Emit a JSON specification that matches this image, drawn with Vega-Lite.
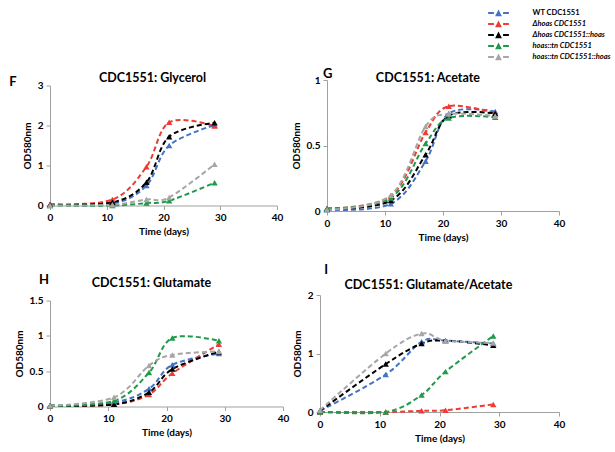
{
  "$schema": "https://vega.github.io/schema/vega-lite/v6.json",
  "padding": {"left": 9, "top": 9, "right": 0, "bottom": 5},
  "background": "white",
  "config": {
    "font": "Lato",
    "view": {"stroke": null},
    "axis": {"domainColor": "#a0a0a0", "tickColor": "#a0a0a0", "tickSize": 4, "grid": false, "labelFont": "Lato", "labelFontSize": 10, "labelFontWeight": "bold", "labelColor": "#000", "titleFont": "Lato", "titleFontSize": 10, "titleFontWeight": "bold", "titleColor": "#000", "labelPadding": 3, "labelFlush": false},
    "axisX": {"titlePadding": 4},
    "axisY": {"titlePadding": 5},
    "title": {"font": "Lato", "fontSize": 12.5, "fontWeight": "bold", "color": "#000"}
  },
  "data": {"values": [
    {"panel": "F", "strain": "WT CDC1551", "time": 0, "od": 0.02},
    {"panel": "F", "strain": "WT CDC1551", "time": 11, "od": 0.05},
    {"panel": "F", "strain": "WT CDC1551", "time": 17, "od": 0.5},
    {"panel": "F", "strain": "WT CDC1551", "time": 21, "od": 1.5},
    {"panel": "F", "strain": "WT CDC1551", "time": 29, "od": 2.01},
    {"panel": "F", "strain": "Δhoas CDC1551", "time": 0, "od": 0.03},
    {"panel": "F", "strain": "Δhoas CDC1551", "time": 11, "od": 0.15},
    {"panel": "F", "strain": "Δhoas CDC1551", "time": 17, "od": 0.97},
    {"panel": "F", "strain": "Δhoas CDC1551", "time": 21, "od": 2.08},
    {"panel": "F", "strain": "Δhoas CDC1551", "time": 29, "od": 1.99},
    {"panel": "F", "strain": "Δhoas CDC1551::hoas", "time": 0, "od": 0.02},
    {"panel": "F", "strain": "Δhoas CDC1551::hoas", "time": 11, "od": 0.08},
    {"panel": "F", "strain": "Δhoas CDC1551::hoas", "time": 17, "od": 0.58},
    {"panel": "F", "strain": "Δhoas CDC1551::hoas", "time": 21, "od": 1.72},
    {"panel": "F", "strain": "Δhoas CDC1551::hoas", "time": 29, "od": 2.07},
    {"panel": "F", "strain": "hoas::tn CDC1551", "time": 0, "od": 0.0},
    {"panel": "F", "strain": "hoas::tn CDC1551", "time": 11, "od": 0.0},
    {"panel": "F", "strain": "hoas::tn CDC1551", "time": 17, "od": 0.06},
    {"panel": "F", "strain": "hoas::tn CDC1551", "time": 21, "od": 0.12},
    {"panel": "F", "strain": "hoas::tn CDC1551", "time": 29, "od": 0.57},
    {"panel": "F", "strain": "hoas::tn CDC1551::hoas", "time": 0, "od": 0.0},
    {"panel": "F", "strain": "hoas::tn CDC1551::hoas", "time": 11, "od": 0.02},
    {"panel": "F", "strain": "hoas::tn CDC1551::hoas", "time": 17, "od": 0.15},
    {"panel": "F", "strain": "hoas::tn CDC1551::hoas", "time": 21, "od": 0.2},
    {"panel": "F", "strain": "hoas::tn CDC1551::hoas", "time": 29, "od": 1.03},

    {"panel": "G", "strain": "WT CDC1551", "time": 0, "od": 0.01},
    {"panel": "G", "strain": "WT CDC1551", "time": 11, "od": 0.055},
    {"panel": "G", "strain": "WT CDC1551", "time": 17, "od": 0.38},
    {"panel": "G", "strain": "WT CDC1551", "time": 21, "od": 0.745},
    {"panel": "G", "strain": "WT CDC1551", "time": 29, "od": 0.76},
    {"panel": "G", "strain": "Δhoas CDC1551", "time": 0, "od": 0.02},
    {"panel": "G", "strain": "Δhoas CDC1551", "time": 11, "od": 0.115},
    {"panel": "G", "strain": "Δhoas CDC1551", "time": 17, "od": 0.6},
    {"panel": "G", "strain": "Δhoas CDC1551", "time": 21, "od": 0.8},
    {"panel": "G", "strain": "Δhoas CDC1551", "time": 29, "od": 0.745},
    {"panel": "G", "strain": "Δhoas CDC1551::hoas", "time": 0, "od": 0.015},
    {"panel": "G", "strain": "Δhoas CDC1551::hoas", "time": 11, "od": 0.08},
    {"panel": "G", "strain": "Δhoas CDC1551::hoas", "time": 17, "od": 0.43},
    {"panel": "G", "strain": "Δhoas CDC1551::hoas", "time": 21, "od": 0.727},
    {"panel": "G", "strain": "Δhoas CDC1551::hoas", "time": 29, "od": 0.745},
    {"panel": "G", "strain": "hoas::tn CDC1551", "time": 0, "od": 0.02},
    {"panel": "G", "strain": "hoas::tn CDC1551", "time": 11, "od": 0.1},
    {"panel": "G", "strain": "hoas::tn CDC1551", "time": 17, "od": 0.515},
    {"panel": "G", "strain": "hoas::tn CDC1551", "time": 21, "od": 0.71},
    {"panel": "G", "strain": "hoas::tn CDC1551", "time": 29, "od": 0.715},
    {"panel": "G", "strain": "hoas::tn CDC1551::hoas", "time": 0, "od": 0.01},
    {"panel": "G", "strain": "hoas::tn CDC1551::hoas", "time": 11, "od": 0.12},
    {"panel": "G", "strain": "hoas::tn CDC1551::hoas", "time": 17, "od": 0.645},
    {"panel": "G", "strain": "hoas::tn CDC1551::hoas", "time": 21, "od": 0.74},
    {"panel": "G", "strain": "hoas::tn CDC1551::hoas", "time": 29, "od": 0.725},

    {"panel": "H", "strain": "WT CDC1551", "time": 0, "od": 0.01},
    {"panel": "H", "strain": "WT CDC1551", "time": 11, "od": 0.06},
    {"panel": "H", "strain": "WT CDC1551", "time": 17, "od": 0.25},
    {"panel": "H", "strain": "WT CDC1551", "time": 21, "od": 0.59},
    {"panel": "H", "strain": "WT CDC1551", "time": 29, "od": 0.75},
    {"panel": "H", "strain": "Δhoas CDC1551", "time": 0, "od": 0.01},
    {"panel": "H", "strain": "Δhoas CDC1551", "time": 11, "od": 0.03},
    {"panel": "H", "strain": "Δhoas CDC1551", "time": 17, "od": 0.17},
    {"panel": "H", "strain": "Δhoas CDC1551", "time": 21, "od": 0.47},
    {"panel": "H", "strain": "Δhoas CDC1551", "time": 29, "od": 0.88},
    {"panel": "H", "strain": "Δhoas CDC1551::hoas", "time": 0, "od": 0.01},
    {"panel": "H", "strain": "Δhoas CDC1551::hoas", "time": 11, "od": 0.03},
    {"panel": "H", "strain": "Δhoas CDC1551::hoas", "time": 17, "od": 0.2},
    {"panel": "H", "strain": "Δhoas CDC1551::hoas", "time": 21, "od": 0.53},
    {"panel": "H", "strain": "Δhoas CDC1551::hoas", "time": 29, "od": 0.776},
    {"panel": "H", "strain": "hoas::tn CDC1551", "time": 0, "od": 0.01},
    {"panel": "H", "strain": "hoas::tn CDC1551", "time": 11, "od": 0.08},
    {"panel": "H", "strain": "hoas::tn CDC1551", "time": 17, "od": 0.48},
    {"panel": "H", "strain": "hoas::tn CDC1551", "time": 21, "od": 0.97},
    {"panel": "H", "strain": "hoas::tn CDC1551", "time": 29, "od": 0.93},
    {"panel": "H", "strain": "hoas::tn CDC1551::hoas", "time": 0, "od": 0.01},
    {"panel": "H", "strain": "hoas::tn CDC1551::hoas", "time": 11, "od": 0.13},
    {"panel": "H", "strain": "hoas::tn CDC1551::hoas", "time": 17, "od": 0.58},
    {"panel": "H", "strain": "hoas::tn CDC1551::hoas", "time": 21, "od": 0.73},
    {"panel": "H", "strain": "hoas::tn CDC1551::hoas", "time": 29, "od": 0.78},

    {"panel": "I", "strain": "WT CDC1551", "time": 0, "od": 0.02},
    {"panel": "I", "strain": "WT CDC1551", "time": 11, "od": 0.64},
    {"panel": "I", "strain": "WT CDC1551", "time": 17, "od": 1.2},
    {"panel": "I", "strain": "WT CDC1551", "time": 21, "od": 1.22},
    {"panel": "I", "strain": "WT CDC1551", "time": 29, "od": 1.17},
    {"panel": "I", "strain": "Δhoas CDC1551", "time": 0, "od": 0.0},
    {"panel": "I", "strain": "Δhoas CDC1551", "time": 11, "od": 0.0},
    {"panel": "I", "strain": "Δhoas CDC1551", "time": 17, "od": 0.02},
    {"panel": "I", "strain": "Δhoas CDC1551", "time": 21, "od": 0.03},
    {"panel": "I", "strain": "Δhoas CDC1551", "time": 29, "od": 0.13},
    {"panel": "I", "strain": "Δhoas CDC1551::hoas", "time": 0, "od": 0.02},
    {"panel": "I", "strain": "Δhoas CDC1551::hoas", "time": 11, "od": 0.82},
    {"panel": "I", "strain": "Δhoas CDC1551::hoas", "time": 17, "od": 1.17},
    {"panel": "I", "strain": "Δhoas CDC1551::hoas", "time": 21, "od": 1.22},
    {"panel": "I", "strain": "Δhoas CDC1551::hoas", "time": 29, "od": 1.14},
    {"panel": "I", "strain": "hoas::tn CDC1551", "time": 0, "od": 0.0},
    {"panel": "I", "strain": "hoas::tn CDC1551", "time": 11, "od": 0.0},
    {"panel": "I", "strain": "hoas::tn CDC1551", "time": 17, "od": 0.29},
    {"panel": "I", "strain": "hoas::tn CDC1551", "time": 21, "od": 0.69},
    {"panel": "I", "strain": "hoas::tn CDC1551", "time": 29, "od": 1.3},
    {"panel": "I", "strain": "hoas::tn CDC1551::hoas", "time": 0, "od": 0.03},
    {"panel": "I", "strain": "hoas::tn CDC1551::hoas", "time": 11, "od": 1.0},
    {"panel": "I", "strain": "hoas::tn CDC1551::hoas", "time": 17, "od": 1.34},
    {"panel": "I", "strain": "hoas::tn CDC1551::hoas", "time": 21, "od": 1.22},
    {"panel": "I", "strain": "hoas::tn CDC1551::hoas", "time": 29, "od": 1.18}
  ]},
  "spacing": 22,
  "vconcat": [
    {"hconcat": [
      {"title": {"text": "F", "anchor": "start", "frame": "bounds", "fontSize": 13, "offset": -17, "dx": -13},
       "vconcat": [{
        "width": 227, "height": 120,
        "title": {"text": "CDC1551: Glycerol", "anchor": "middle", "frame": "bounds", "offset": -3.5},
        "transform": [{"filter": "datum.panel === 'F'"}],
        "mark": {"type": "line", "interpolate": "cardinal", "strokeDash": [5, 3], "strokeWidth": 2, "point": {"shape": "triangle-up", "filled": true, "size": 40, "opacity": 1}},
        "encoding": {
          "x": {"field": "time", "type": "quantitative", "scale": {"domain": [0, 40]}, "axis": {"values": [0, 10, 20, 30, 40], "title": "Time (days)"}},
          "y": {"field": "od", "type": "quantitative", "scale": {"domain": [0, 3]}, "axis": {"values": [0, 1, 2, 3], "format": "~g", "title": "OD580nm"}},
          "color": {"field": "strain", "type": "nominal", "scale": {"domain": ["WT CDC1551", "Δhoas CDC1551", "Δhoas CDC1551::hoas", "hoas::tn CDC1551", "hoas::tn CDC1551::hoas"], "range": ["#4472c4", "#ee3b33", "#000000", "#1f9a4b", "#a6a6a6"]},
            "legend": {"orient": "none", "legendX": 444.5, "legendY": -71, "title": null, "symbolType": "M-2.6,-0.25H-1.15V0.25H-2.6Z M-0.85,0.8L0,-0.85L0.85,0.8Z M1.15,-0.25H2.6V0.25H1.15Z", "symbolSize": 64, "symbolStrokeWidth": 0, "labelOffset": 30, "labelFont": "Lato", "labelFontWeight": "bold", "labelFontSize": 7.5, "labelColor": "#000", "rowPadding": 3,
              "encode": {"symbols": {"update": {"fill": {"scale": "color", "field": "value"}, "opacity": {"value": 1}, "strokeDash": {"value": []}}}, "labels": {"update": {"fontStyle": {"signal": "datum.label === 'WT CDC1551' ? 'normal' : 'italic'"}}}}}}
        }
      }]},
      {"title": {"text": "G", "anchor": "start", "frame": "bounds", "fontSize": 13, "offset": -9, "dx": 32},
       "vconcat": [{
        "width": 232, "height": 131,
        "title": {"text": "CDC1551: Acetate", "anchor": "middle", "frame": "bounds", "offset": -9.5},
        "transform": [{"filter": "datum.panel === 'G'"}],
        "mark": {"type": "line", "interpolate": "cardinal", "strokeDash": [5, 3], "strokeWidth": 2, "point": {"shape": "triangle-up", "filled": true, "size": 40, "opacity": 1}},
        "encoding": {
          "x": {"field": "time", "type": "quantitative", "scale": {"domain": [0, 40]}, "axis": {"values": [0, 10, 20, 30, 40], "title": "Time (days)"}},
          "y": {"field": "od", "type": "quantitative", "scale": {"domain": [0, 1]}, "axis": {"values": [0, 0.5, 1], "format": "~g", "title": "OD580nm"}},
          "color": {"field": "strain", "type": "nominal"}
        }
      }]}
    ], "spacing": 8, "center": true},
    {"hconcat": [
      {"title": {"text": "H", "anchor": "start", "frame": "bounds", "fontSize": 13, "offset": -10, "dx": 25},
       "vconcat": [{
        "width": 233, "height": 106,
        "title": {"text": "CDC1551: Glutamate", "anchor": "middle", "frame": "bounds", "offset": 6.5},
        "transform": [{"filter": "datum.panel === 'H'"}],
        "mark": {"type": "line", "interpolate": "cardinal", "strokeDash": [5, 3], "strokeWidth": 2, "point": {"shape": "triangle-up", "filled": true, "size": 40, "opacity": 1}},
        "encoding": {
          "x": {"field": "time", "type": "quantitative", "scale": {"domain": [0, 40]}, "axis": {"values": [0, 10, 20, 30, 40], "title": "Time (days)"}},
          "y": {"field": "od", "type": "quantitative", "scale": {"domain": [0, 1.5]}, "axis": {"values": [0, 0.5, 1, 1.5], "format": "~g", "title": "OD580nm"}},
          "color": {"field": "strain", "type": "nominal"}
        }
      }]},
      {"title": {"text": "I", "anchor": "start", "frame": "bounds", "fontSize": 13, "offset": 1.6, "dx": 32},
       "vconcat": [{
        "width": 239, "height": 117,
        "title": {"text": "CDC1551: Glutamate/Acetate", "anchor": "middle", "frame": "bounds", "offset": -1.5},
        "transform": [{"filter": "datum.panel === 'I'"}],
        "mark": {"type": "line", "interpolate": "cardinal", "strokeDash": [5, 3], "strokeWidth": 2, "point": {"shape": "triangle-up", "filled": true, "size": 40, "opacity": 1}},
        "encoding": {
          "x": {"field": "time", "type": "quantitative", "scale": {"domain": [0, 40]}, "axis": {"values": [0, 10, 20, 30, 40], "title": "Time (days)"}},
          "y": {"field": "od", "type": "quantitative", "scale": {"domain": [0, 2]}, "axis": {"values": [0, 1, 2], "format": "~g", "title": "OD580nm"}},
          "color": {"field": "strain", "type": "nominal"}
        }
      }]}
    ], "spacing": 3, "center": true}
  ]
}
